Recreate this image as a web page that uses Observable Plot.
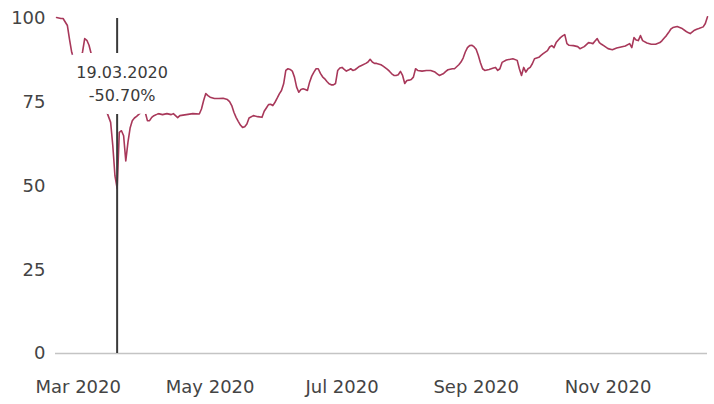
<!DOCTYPE html>
<html>
<head>
<meta charset="utf-8">
<script src="https://cdn.jsdelivr.net/npm/d3@7"></script>
<script src="https://cdn.jsdelivr.net/npm/@observablehq/plot@0.6"></script>
<style>
  html, body { margin: 0; padding: 0; background: #fff; }
  #chart svg { display: block; }
</style>
</head>
<body>
<div id="chart"></div>
<script>
const dates = [
"2020-02-20","2020-02-22","2020-02-23","2020-02-25","2020-02-26","2020-02-27","2020-02-28","2020-02-29",
"2020-03-02","2020-03-03","2020-03-04","2020-03-05","2020-03-06","2020-03-07","2020-03-09","2020-03-10",
"2020-03-11","2020-03-13","2020-03-14","2020-03-16","2020-03-17","2020-03-18","2020-03-19","2020-03-20",
"2020-03-21","2020-03-22","2020-03-23","2020-03-24","2020-03-25","2020-03-26","2020-03-27","2020-03-28",
"2020-03-29","2020-03-30","2020-03-31","2020-04-01","2020-04-02","2020-04-03","2020-04-04","2020-04-05",
"2020-04-07","2020-04-09","2020-04-11","2020-04-13","2020-04-14","2020-04-16","2020-04-17","2020-04-20",
"2020-04-23","2020-04-26","2020-04-27","2020-04-28","2020-04-29","2020-04-30","2020-05-01","2020-05-03",
"2020-05-05","2020-05-07","2020-05-09","2020-05-10","2020-05-11","2020-05-12","2020-05-13","2020-05-14",
"2020-05-15","2020-05-16","2020-05-17","2020-05-18","2020-05-19","2020-05-21","2020-05-23","2020-05-25",
"2020-05-26","2020-05-27","2020-05-28","2020-05-29","2020-05-30","2020-05-31","2020-06-01","2020-06-02",
"2020-06-03","2020-06-04","2020-06-05","2020-06-06","2020-06-07","2020-06-08","2020-06-09","2020-06-10",
"2020-06-11","2020-06-12","2020-06-13","2020-06-14","2020-06-15","2020-06-16","2020-06-17","2020-06-18",
"2020-06-19","2020-06-20","2020-06-21","2020-06-22","2020-06-23","2020-06-24","2020-06-25","2020-06-26",
"2020-06-27","2020-06-28","2020-06-29","2020-06-30","2020-07-01","2020-07-02","2020-07-03","2020-07-04",
"2020-07-05","2020-07-06","2020-07-07","2020-07-08","2020-07-09","2020-07-10","2020-07-12","2020-07-13",
"2020-07-14","2020-07-15","2020-07-16","2020-07-17","2020-07-19","2020-07-20","2020-07-22","2020-07-23",
"2020-07-24","2020-07-25","2020-07-26","2020-07-27","2020-07-28","2020-07-29","2020-07-30","2020-07-31",
"2020-08-01","2020-08-02","2020-08-03","2020-08-04","2020-08-05","2020-08-07","2020-08-09","2020-08-11",
"2020-08-13","2020-08-14","2020-08-15","2020-08-16","2020-08-17","2020-08-18","2020-08-19","2020-08-21",
"2020-08-22","2020-08-23","2020-08-24","2020-08-25","2020-08-26","2020-08-27","2020-08-28","2020-08-29",
"2020-08-30","2020-08-31","2020-09-01","2020-09-02","2020-09-03","2020-09-04","2020-09-05","2020-09-07",
"2020-09-09","2020-09-10","2020-09-11","2020-09-12","2020-09-13","2020-09-15","2020-09-18","2020-09-20",
"2020-09-21","2020-09-22","2020-09-23","2020-09-24","2020-09-25","2020-09-26","2020-09-27","2020-09-28",
"2020-09-30","2020-10-01","2020-10-02","2020-10-04","2020-10-05","2020-10-06","2020-10-07","2020-10-08",
"2020-10-09","2020-10-10","2020-10-11","2020-10-12","2020-10-13","2020-10-14","2020-10-16","2020-10-18",
"2020-10-19","2020-10-21","2020-10-22","2020-10-23","2020-10-24","2020-10-25","2020-10-26","2020-10-27",
"2020-10-28","2020-10-29","2020-10-30","2020-11-01","2020-11-03","2020-11-05","2020-11-07","2020-11-09",
"2020-11-11","2020-11-12","2020-11-13","2020-11-14","2020-11-15","2020-11-16","2020-11-17","2020-11-19",
"2020-11-21","2020-11-23","2020-11-25","2020-11-26","2020-11-27","2020-11-28","2020-11-29","2020-11-30",
"2020-12-01","2020-12-03","2020-12-05","2020-12-07","2020-12-08","2020-12-09","2020-12-10","2020-12-11",
"2020-12-12","2020-12-13","2020-12-15","2020-12-16","2020-12-17"
];

const values = [
100.3,100,100,97.9,93.7,89.9,87.8,86.5,
87.5,90,94,93.5,92,89.5,88.5,87,
84,78,72.5,69,62,53,49.3,66,
66.5,65,57.5,63,67.3,69.5,70.3,70.8,
71.4,71.9,72.4,72,69.5,69.5,70.5,71,
71.6,71.3,71.6,71.3,71.6,70.4,71,71.3,
71.6,71.5,73,75.5,77.6,77,76.5,76.1,
76.1,76.2,75.8,75.2,74,72,70.5,69.3,
68.2,67.5,67.7,68.5,70.3,71,70.7,70.5,
72.3,73.3,74.3,74.4,74,75,76.2,77.5,
78.5,80.5,84.5,85,84.8,84.3,82.5,79.5,
78,78.8,79,78.8,78.5,81,82.8,84,
85,85,83.6,82.6,82,81.2,80.5,80.2,
80.2,80.6,84.5,85.2,85.4,84.8,84.3,84.6,
85,84.5,84.7,85.2,85.7,86,86.6,87,
87.8,87,86.6,86.6,86.2,85.8,84.8,84.2,
83.5,83,83,83.2,84.2,83,80.6,81.5,
81.6,81.8,82.5,85,84.5,84.3,84.5,84.5,
84,83.5,83,83.3,83.6,84.2,84.7,85,
85,85.6,86.2,87,88.2,90,91.3,91.9,
92,91.6,90.8,89,86.8,85,84.5,84.8,
85.2,85.4,84.5,85,86.9,87.6,88,87.5,
85,83,85.4,84,85,85.4,86.5,88,
88.4,89,89.5,90.4,91.5,91.9,91.3,92.8,
93.6,94.3,94.8,95.2,92.5,92,91.9,91.6,
91,91.6,92.2,92.8,92.7,92.5,93.3,94,
92.8,92.3,91.9,91,90.7,91.2,91.5,91.8,
92.5,91.3,94.3,93.6,93.4,94.9,93.4,92.7,
92.3,92.3,92.8,93.4,94.2,94.9,95.8,96.8,
97.3,97.6,97.1,96.2,95.8,95.5,96,96.5,
96.8,97,97.5,98.5,100.5
];

const yTicks = [0, 25, 50, 75, 100];
const xTickMonths = ["2020-03-01","2020-05-01","2020-07-01","2020-09-01","2020-11-01"];
const markerDate = "2020-03-19";
const markerLabel = "19.03.2020\n-50.70%";

const data = dates.map((d, i) => ({date: new Date(d + "T00:00Z"), value: values[i]}));
const marker = [{date: new Date(markerDate + "T00:00Z"), label: markerLabel}];

const labelOpts = {
  x: "date", text: "label", frameAnchor: "top", dy: 43, dx: 5,
  lineAnchor: "top", lineHeight: 1.44, fontSize: 16
};

const chart = Plot.plot({
  width: 714,
  height: 404,
  marginLeft: 55,
  marginRight: 7,
  marginTop: 18,
  marginBottom: 51,
  style: {fontFamily: "DejaVu Sans", fontSize: "18px", color: "#444", background: "#fff"},
  x: {
    type: "utc",
    domain: [new Date("2020-02-19T12:00Z"), new Date("2020-12-17T00:00Z")],
    ticks: xTickMonths.map(d => new Date(d + "T00:00Z")),
    tickFormat: d3.utcFormat("%b %Y"),
    tickSize: 0,
    tickPadding: 27,
    label: null
  },
  y: {
    domain: [0, 100],
    ticks: yTicks,
    tickSize: 0,
    tickPadding: 10,
    label: null
  },
  marks: [
    Plot.ruleY([0], {stroke: "#c4c4c4", strokeWidth: 1.5}),
    Plot.line(data, {x: "date", y: "value", stroke: "#a8385a", strokeWidth: 1.6, curve: "linear", clip: false}),
    Plot.ruleX(marker, {x: "date", y1: 0, y2: 100, stroke: "#3a3a3a", strokeWidth: 2}),
    Plot.text(marker, {...labelOpts, fill: "white", stroke: "white", strokeWidth: 26, strokeLinejoin: "round"}),
    Plot.text(marker, {...labelOpts, fill: "#3a3a3a"})
  ]
});
document.getElementById("chart").appendChild(chart);
</script>
</body>
</html>
